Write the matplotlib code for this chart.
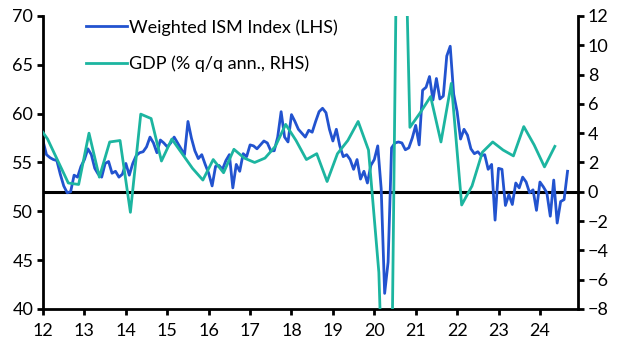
import matplotlib
matplotlib.use("Agg")
import matplotlib.pyplot as plt
import numpy as np

plt.rcParams['font.family'] = ['Lato', 'DejaVu Sans']

# Weighted ISM index, monthly from Jan 2012 (LHS)
ism_2012 = [57.2, 55.8, 55.5, 55.3, 55.2, 53.8, 52.6, 51.9, 52.0, 53.7, 53.5, 54.6]
ism_2013 = [55.3, 56.4, 55.8, 54.4, 53.8, 53.5, 54.9, 55.1, 53.9, 54.1, 53.5, 53.8]
ism_2014 = [54.9, 53.7, 54.9, 55.7, 56.0, 56.1, 56.6, 57.6, 57.0, 56.0, 57.3, 57.0]
ism_2015 = [56.6, 57.0, 57.6, 57.0, 56.4, 55.8, 59.2, 57.5, 56.2, 55.4, 55.8, 54.8]
ism_2016 = [53.9, 52.6, 54.6, 54.7, 54.3, 55.2, 55.8, 52.4, 54.8, 54.1, 55.9, 55.6]
ism_2017 = [56.8, 56.7, 56.4, 56.8, 57.2, 57.0, 56.2, 56.2, 57.6, 60.2, 57.6, 57.1]
ism_2018 = [59.9, 59.2, 58.4, 58.0, 57.6, 58.3, 58.1, 59.2, 60.2, 60.55, 60.1, 58.4]
ism_2019 = [57.2, 58.4, 56.7, 55.6, 55.8, 55.3, 54.3, 55.3, 53.3, 54.1, 52.9, 54.7]
ism_2020 = [55.3, 56.7, 52.3, 41.6, 44.8, 56.5, 57.0, 57.1, 57.0, 56.3, 56.5, 57.5]
ism_2021 = [58.8, 56.8, 62.4, 62.7, 63.8, 61.4, 63.6, 61.5, 61.8, 65.9, 66.9, 62.0]
ism_2022 = [60.2, 57.4, 58.4, 57.8, 56.4, 55.9, 56.1, 55.7, 55.8, 54.3, 54.8, 49.1]
ism_2023 = [54.4, 54.3, 50.6, 51.7, 50.7, 52.9, 52.4, 53.5, 53.0, 51.9, 52.2, 50.1]
ism_2024 = [53.0, 52.5, 51.9, 49.5, 53.2, 48.8, 51.0, 51.2, 54.1]

# GDP % q/q annualised, quarterly from 2011 Q4 (RHS)
gdp_values = [4.6,
              3.6, 2.1, 0.6, 0.5,
              4.0, 1.0, 3.4, 3.5,
              -1.4, 5.3, 5.0, 2.1,
              3.6, 2.6, 1.6, 0.8,
              2.2, 1.3, 2.9, 2.3,
              2.0, 2.3, 3.1, 4.6,
              3.5, 2.2, 2.6, 0.7,
              2.6, 3.5, 4.8, 2.85,
              -5.5, -28.0, 34.8, 4.4,
              5.4, 6.5, 3.4, 7.4,
              -0.9, 0.4, 2.7, 3.4,
              2.85, 2.45, 4.45, 3.2,
              1.7, 3.1]

years = list(range(2012, 2025))
year_labels = [str(y)[2:] for y in years]

ism = (ism_2012 + ism_2013 + ism_2014 + ism_2015 + ism_2016 + ism_2017 + ism_2018
       + ism_2019 + ism_2020 + ism_2021 + ism_2022 + ism_2023 + ism_2024)
ism_x = 2012 + np.arange(len(ism)) / 12
gdp_x = 2011.75 + np.arange(len(gdp_values)) / 4 + 0.11

blue = '#2253cf'
teal = '#1cb5a0'

fig = plt.figure(figsize=(6.3, 3.55), dpi=100)
ax = fig.add_axes([0.0683, 0.1296, 0.8492, 0.8254])
ax2 = ax.twinx()

ax.axhline(52, color='black', linewidth=2.2, zorder=1)
ax.plot(ism_x, ism, color=blue, linewidth=2.0, zorder=2, label='Weighted ISM Index (LHS)')
ax2.plot(gdp_x, gdp_values, color=teal, linewidth=2.0, label='GDP (% q/q ann., RHS)')

ax.set_xlim(2012, 2024.92)
ax.set_ylim(40, 70)
ax2.set_ylim(-8, 12)
ax.set_xticks(years)
ax.set_xticklabels(year_labels)
ax.set_yticks(range(40, 71, 5))
ax2.set_yticks(range(-8, 13, 2))

for a in (ax, ax2):
    a.spines['top'].set_visible(False)
    for s in ('left', 'right', 'bottom'):
        a.spines[s].set_linewidth(2.0)
    a.tick_params(width=2.0, length=4, labelsize=13, colors='black', pad=3)
ax.spines['right'].set_visible(False)
ax2.spines['left'].set_visible(False)
ax2.spines['bottom'].set_visible(False)
ax.tick_params(axis='x', pad=6)

h1, l1 = ax.get_legend_handles_labels()
h2, l2 = ax2.get_legend_handles_labels()
ax2.legend(h1 + h2, l1 + l2, loc='upper left', bbox_to_anchor=(0.05, 1.045),
           frameon=False, fontsize=13, handlelength=2.25, handletextpad=0.15,
           labelspacing=1.1)

fig.savefig('out.png', dpi=100)
